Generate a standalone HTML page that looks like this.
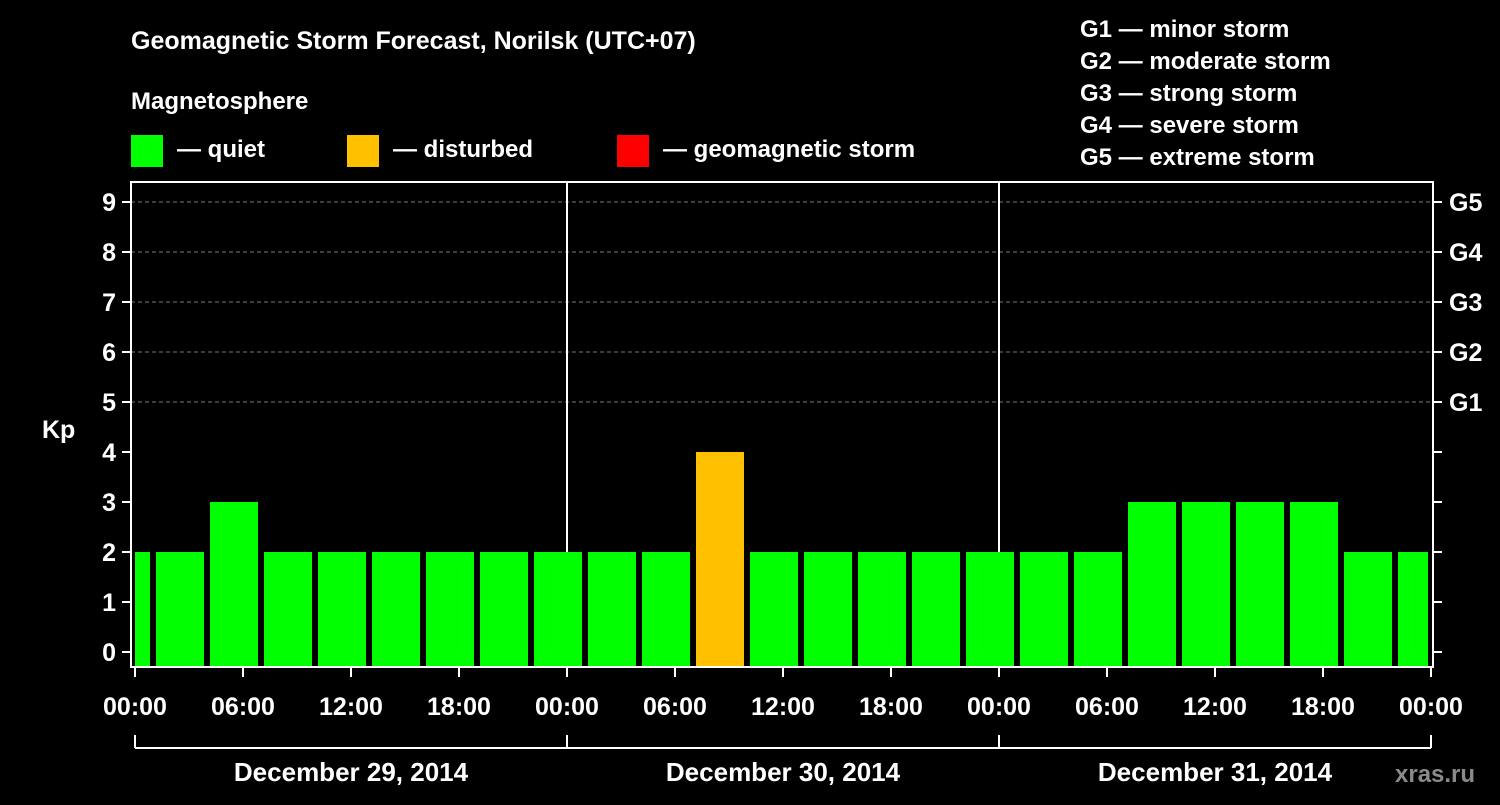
<!DOCTYPE html>
<html><head><meta charset="utf-8"><style>
html,body{margin:0;padding:0;background:#000;}
svg text{font-family:"Liberation Sans",Arial,sans-serif;font-weight:bold;fill:#fff;}
</style></head><body>
<svg id="chart" width="1500" height="800" viewBox="0 0 1500 800" xmlns="http://www.w3.org/2000/svg">
<rect width="1500" height="800" fill="#000"/>
<text x="131" y="49" font-size="25">Geomagnetic Storm Forecast, Norilsk (UTC+07)</text>
<text x="131" y="109" font-size="24">Magnetosphere</text>
<g><rect x="131" y="135" width="32" height="32" fill="#00ff00"/><text x="177" y="157" font-size="24">— quiet</text></g>
<g><rect x="347" y="135" width="32" height="32" fill="#ffc000"/><text x="393" y="157" font-size="24">— disturbed</text></g>
<g><rect x="617" y="135" width="32" height="32" fill="#ff0000"/><text x="663" y="157" font-size="24">— geomagnetic storm</text></g>
<g font-size="24">
<text x="1080" y="37">G1 — minor storm</text>
<text x="1080" y="69">G2 — moderate storm</text>
<text x="1080" y="101">G3 — strong storm</text>
<text x="1080" y="133">G4 — severe storm</text>
<text x="1080" y="165">G5 — extreme storm</text>
</g>
<g id="grid"></g>
<g id="bars"></g>
<rect x="131" y="182" width="1302" height="485" fill="none" stroke="#fff" stroke-width="2"/>
<g id="axes"></g>
<text x="42" y="438" font-size="25">Kp</text>
<text x="1395" y="782" font-size="24" fill="#888" style="fill:#8a8a8a">xras.ru</text>
</svg>
<script>
const values = [2,2,3,2,2,2,2,2,2,2,2,4,2,2,2,2,2,2,2,3,3,3,3,2,2];
const timeLabels = ["00:00","06:00","12:00","18:00","00:00","06:00","12:00","18:00","00:00","06:00","12:00","18:00","00:00"];
const dayLabels = ["December 29, 2014","December 30, 2014","December 31, 2014"];
const kpTicks = [0,1,2,3,4,5,6,7,8,9];
const gLabels = ["G1","G2","G3","G4","G5"];

const NS="http://www.w3.org/2000/svg";
const x0=135, pxH=18, plotL=131, plotR=1433, plotB=667, plotT=182;
const y=v=>652-v*50;
const xH=h=>x0+h*pxH;
function mk(t,a,p){const e=document.createElementNS(NS,t);for(const k in a)e.setAttribute(k,a[k]);p.appendChild(e);return e;}
const grid=document.getElementById('grid'),bars=document.getElementById('bars'),axes=document.getElementById('axes');

kpTicks.forEach(v=>{
  if(v>=5){const l=mk('line',{x1:plotL,x2:plotR,y1:y(v),y2:y(v),stroke:'#777','stroke-dasharray':'4,3','stroke-width':1},grid);
  
  }
  mk('line',{x1:122,x2:plotL,y1:y(v),y2:y(v),stroke:'#fff','stroke-width':2},axes);
  mk('line',{x1:plotR,x2:1442,y1:y(v),y2:y(v),stroke:'#fff','stroke-width':2},axes);
  const t=mk('text',{x:116,y:y(v)+9,'text-anchor':'end','font-size':25},axes);t.textContent=v;
  
  
});
gLabels.forEach((g,i)=>{const t=mk('text',{x:1449,y:y(5+i)+9,'font-size':25},axes);t.textContent=g;
  
  });

values.forEach((v,i)=>{
  const c=xH(2.5+3*(i-1));
  let l=c-24,r=c+24;
  l=Math.max(l,x0);r=Math.min(r,1428);
  const b=mk('rect',{x:l,y:y(v),width:r-l,height:plotB-y(v),fill:v>=5?'#ff0000':(v>=4?'#ffc000':'#00ff00')},bars);
  
  
});

[1,2].forEach(d=>{mk('line',{x1:xH(24*d),x2:xH(24*d),y1:plotT,y2:plotB,stroke:'#fff','stroke-width':2},grid);});

timeLabels.forEach((s,i)=>{
  const x=xH(i*6);
  mk('line',{x1:x,x2:x,y1:plotB,y2:677,stroke:'#fff','stroke-width':2},axes);
  const t=mk('text',{x:x,y:715,'text-anchor':'middle','font-size':25},axes);t.textContent=s;
  
  
});
mk('line',{x1:xH(0),x2:xH(72),y1:748,y2:748,stroke:'#fff','stroke-width':2},axes);
[0,1,2,3].forEach(d=>mk('line',{x1:xH(24*d),x2:xH(24*d),y1:735,y2:748,stroke:'#fff','stroke-width':2},axes));
dayLabels.forEach((s,i)=>{
  const t=mk('text',{x:xH(24*i+12),y:781,'text-anchor':'middle','font-size':26},axes);t.textContent=s;
  
  
});
</script>
</body></html>
